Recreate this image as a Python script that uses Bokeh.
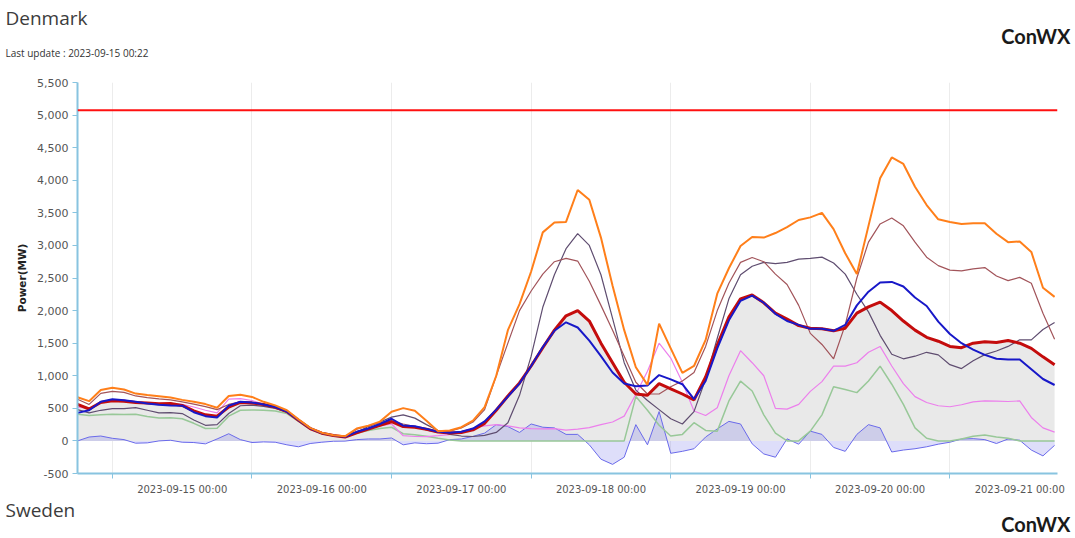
from bokeh.plotting import figure
from bokeh.layouts import column
from bokeh.models import FixedTicker, Label, Range1d, NumeralTickFormatter, Span
from bokeh.embed import file_html
from bokeh.resources import INLINE

# hours since 2023-09-14 18:00, 2-hour steps
hours = list(range(0, 169, 2))
tick_hours = [6, 30, 54, 78, 102, 126, 150]
label_hours = [18, 42, 66, 90, 114, 138, 162]
day_labels = ["2023-09-15 00:00", "2023-09-16 00:00", "2023-09-17 00:00", "2023-09-18 00:00",
              "2023-09-19 00:00", "2023-09-20 00:00", "2023-09-21 00:00"]
y_ticks = list(range(-500, 5501, 500))
capacity = 5075

orange_max = [670, 610, 780, 815, 790, 726, 705, 685, 665, 630,
              600, 565, 510, 690, 710, 675, 600, 545, 470, 330,
              200, 125, 88, 70, 190, 235, 296, 448, 503, 463,
              311, 150, 160, 210, 311, 520, 1000, 1700, 2100, 2600,
              3200, 3350, 3360, 3850, 3700, 3120, 2380, 1700, 1130, 860,
              1800, 1420, 1045, 1150, 1550, 2260, 2650, 2990, 3130, 3120,
              3190, 3280, 3390, 3430, 3500, 3250, 2880, 2560, 3300, 4030,
              4350, 4250, 3900, 3620, 3400, 3360, 3330, 3340, 3340, 3180,
              3050, 3060, 2900, 2350, 2210]
brown = [640, 560, 730, 760, 745, 690, 665, 645, 630, 600,
         565, 525, 480, 560, 600, 590, 560, 520, 450, 320,
         195, 120, 85, 60, 180, 230, 280, 310, 260, 220,
         170, 130, 150, 200, 290, 480, 1000, 1500, 2000, 2300,
         2560, 2750, 2800, 2760, 2450, 2080, 1700, 1300, 900, 720,
         720, 830, 920, 1050, 1450, 2000, 2420, 2740, 2815, 2750,
         2560, 2400, 2080, 1650, 1480, 1260, 1780, 2500, 3050, 3330,
         3420, 3300, 3050, 2820, 2690, 2620, 2610, 2640, 2660, 2530,
         2460, 2510, 2420, 1960, 1560]
dark_purple = [480, 430, 470, 495, 495, 510, 470, 430, 435, 420,
               320, 240, 250, 420, 540, 550, 530, 500, 440, 310,
               185, 115, 80, 58, 134, 220, 290, 365, 400, 350,
               250, 160, 100, 75, 68, 85, 130, 280, 700, 1300,
               2050, 2550, 2950, 3180, 3000, 2550, 1880, 1200, 780, 620,
               480, 340, 260, 450, 950, 1576, 2180, 2550, 2680, 2740,
               2720, 2740, 2790, 2800, 2820, 2730, 2560, 2250, 1980, 1620,
               1330, 1260, 1300, 1360, 1320, 1170, 1110, 1230, 1324, 1380,
               1450, 1551, 1551, 1710, 1818]
red_main = [560, 490, 590, 615, 610, 590, 580, 570, 575, 545,
            460, 400, 380, 520, 590, 580, 560, 520, 450, 315,
            190, 118, 82, 60, 125, 180, 240, 295, 220, 210,
            180, 135, 120, 130, 170, 270, 470, 690, 890, 1150,
            1430, 1700, 1920, 2000, 1840, 1500, 1200, 900, 720, 700,
            880, 800, 720, 630, 980, 1470, 1900, 2180, 2240, 2120,
            1960, 1870, 1770, 1730, 1720, 1690, 1730, 1960, 2057, 2130,
            2000, 1840, 1700, 1590, 1530, 1450, 1430, 1500, 1520, 1510,
            1540, 1500, 1420, 1290, 1170]
blue_main = [430, 470, 600, 640, 625, 600, 575, 555, 545, 540,
             440, 380, 360, 540, 600, 590, 560, 520, 450, 320,
             195, 120, 85, 62, 140, 190, 260, 340, 235, 225,
             185, 140, 125, 140, 190, 300, 480, 680, 880, 1150,
             1440, 1690, 1820, 1740, 1540, 1300, 1050, 880, 840, 850,
             1010, 944, 870, 640, 920, 1420, 1850, 2150, 2230, 2120,
             1950, 1840, 1780, 1720, 1720, 1690, 1780, 2080, 2290, 2430,
             2440, 2370, 2200, 2070, 1830, 1640, 1500, 1400, 1320, 1260,
             1250, 1248, 1100, 950, 858]
pink = [520, 500, 590, 620, 625, 600, 585, 570, 565, 560,
        520, 470, 430, 640, 650, 620, 560, 520, 450, 320,
        195, 120, 85, 62, 140, 190, 230, 260, 80, 68,
        65, 80, 98, 140, 190, 230, 250, 230, 200, 190,
        185, 190, 165, 180, 205, 250, 290, 380, 716, 1070,
        1500, 1272, 900, 460, 390, 510, 1000, 1385, 1200, 1000,
        500, 488, 560, 760, 910, 1147, 1147, 1200, 1360, 1450,
        1150, 880, 680, 590, 540, 524, 555, 600, 614, 610,
        605, 614, 360, 200, 134]
green = [410, 390, 400, 410, 405, 410, 375, 350, 355, 340,
         270, 190, 195, 380, 470, 475, 470, 460, 420, 300,
         180, 110, 75, 55, 120, 160, 190, 210, 110, 95,
         70, 40, 15, 0, 0, 0, 0, 0, 0, 0,
         0, 0, 0, 0, 0, 0, 0, 0, 680, 470,
         240, 76, 100, 280, 160, 150, 614, 918, 766, 400,
         120, 0, 0, 150, 400, 830, 790, 741, 920, 1147,
         870, 560, 200, 40, 0, 0, 30, 70, 90, 60,
         40, 0, 0, 0, 0]
violet = [0, 60, 75, 40, 20, -35, -30, 0, 10, -20,
          -25, -45, 30, 110, 20, -25, -15, -20, -60, -90,
          -40, -20, -5, -3, 20, 30, 30, 45, -60, -30,
          -43, -35, 20, 30, 70, 120, 250, 220, 130, 260,
          210, 200, 100, 100, -60, -280, -360, -250, 250, -60,
          450, -190, -160, -120, 60, 184, 300, 260, -45, -200,
          -250, 32, -50, 150, 100, -100, -160, 100, 250, 200,
          -170, -140, -120, -90, -50, -20, 30, 35, 20, -40,
          30, 10, -140, -230, -68]

zeros = [0] * len(hours)
axis_blue = "#88c4e0"
W = 1072
HEADER_H = 64
CHART_TOP = 18       # space above the plot frame inside chart figure
CHART_BOTTOM = 20
FRAME_H = 395
CHART_H = CHART_TOP + FRAME_H + CHART_BOTTOM
FOOTER_H = 536 - HEADER_H - CHART_H


def text_panel(height, y_top):
    f = figure(width=W, height=height, output_backend="svg", toolbar_location=None,
               x_range=Range1d(0, W), y_range=Range1d(y_top + height, y_top),
               x_axis_location=None, y_axis_location=None, frame_align=False,
               min_border=0, min_border_left=0, min_border_right=0,
               min_border_top=0, min_border_bottom=0)
    f.grid.visible = False
    f.outline_line_color = None
    return f


def add_text(f, text, x, y, size, font="Open Sans", style="normal", align="left", color="#3c3c3c"):
    f.add_layout(Label(x=x, y=y, text=text, text_font=font, text_font_size=size,
                       text_font_style=style, text_align=align, text_baseline="middle",
                       text_color=color))


header = text_panel(HEADER_H, 0)
add_text(header, "Denmark", 5, 17, "19px")
add_text(header, "ConWX", 1070, 35, "20px", font="Lato", style="bold", align="right", color="#1a1a1a")
add_text(header, "Last update : 2023-09-15 00:22", 5, 52, "10px", color="#333333")

p = figure(width=W, height=CHART_H, output_backend="svg", toolbar_location=None,
           x_range=Range1d(0, 168.5), y_range=Range1d(-500, 5500), frame_align=False,
           min_border_left=77, min_border_right=W - 77 - 980,
           min_border_top=CHART_TOP, min_border_bottom=CHART_BOTTOM)
p.outline_line_color = None

p.varea(x=hours, y1=zeros, y2=red_main, fill_color="#e9e9e9")
p.varea(x=hours, y1=zeros, y2=violet, fill_color="#6b6be6", fill_alpha=0.22)
p.line(hours, violet, line_color="#6a6aea", line_width=1)
p.line(hours, green, line_color="#98c898", line_width=1.5)
p.line(hours, pink, line_color="#ec7fec", line_width=1.2)
p.line(hours, dark_purple, line_color="#5f4d70", line_width=1.2)
p.line(hours, brown, line_color="#a2545a", line_width=1.2)
p.line(hours, red_main, line_color="#c40c0c", line_width=3)
p.line(hours, blue_main, line_color="#1818c8", line_width=2)
p.line(hours, orange_max, line_color="#ff7f1a", line_width=2)
p.add_layout(Span(location=capacity, dimension="width", line_color="#ff1010", line_width=2))

# axes
p.xaxis.ticker = FixedTicker(ticks=label_hours, minor_ticks=tick_hours)
p.xaxis.major_label_overrides = {h: s for h, s in zip(label_hours, day_labels)}
p.xaxis.major_tick_out = 0
p.xaxis.major_tick_in = 0
p.xaxis.minor_tick_line_color = axis_blue
p.xaxis.minor_tick_out = 5
p.xaxis.minor_tick_in = 0
p.xaxis.major_label_standoff = 5
p.xgrid.ticker = FixedTicker(ticks=tick_hours)
p.xgrid.grid_line_color = "#ececec"
p.ygrid.grid_line_color = None

p.yaxis.ticker = FixedTicker(ticks=y_ticks)
p.yaxis.formatter = NumeralTickFormatter(format="0,0")
p.yaxis.minor_tick_line_color = None
p.yaxis.major_tick_out = 5
p.yaxis.major_tick_in = 0
p.yaxis.major_label_standoff = 4
p.yaxis.axis_label = "Power(MW)"
p.yaxis.axis_label_text_font = "DejaVu Sans"
p.yaxis.axis_label_text_font_size = "10.5px"
p.yaxis.axis_label_text_font_style = "bold"
p.yaxis.axis_label_text_color = "#222222"
p.yaxis.axis_label_standoff = 6

for ax in (p.xaxis, p.yaxis):
    ax.axis_line_color = axis_blue
    ax.axis_line_width = 2
    ax.major_label_text_font = "DejaVu Sans"
    ax.major_label_text_color = "#555555"
p.xaxis.major_tick_line_color = None
p.yaxis.major_tick_line_color = axis_blue
p.xaxis.major_label_text_font_size = "10px"
p.yaxis.major_label_text_font_size = "11px"

footer_top = HEADER_H + CHART_H
footer = text_panel(FOOTER_H, footer_top)
add_text(footer, "Sweden", 5, 509, "19px")
add_text(footer, "ConWX", 1070, 523, "20px", font="Lato", style="bold", align="right", color="#1a1a1a")

layout = column(header, p, footer, spacing=0)
open("out.html", "w").write(file_html(layout, INLINE))
